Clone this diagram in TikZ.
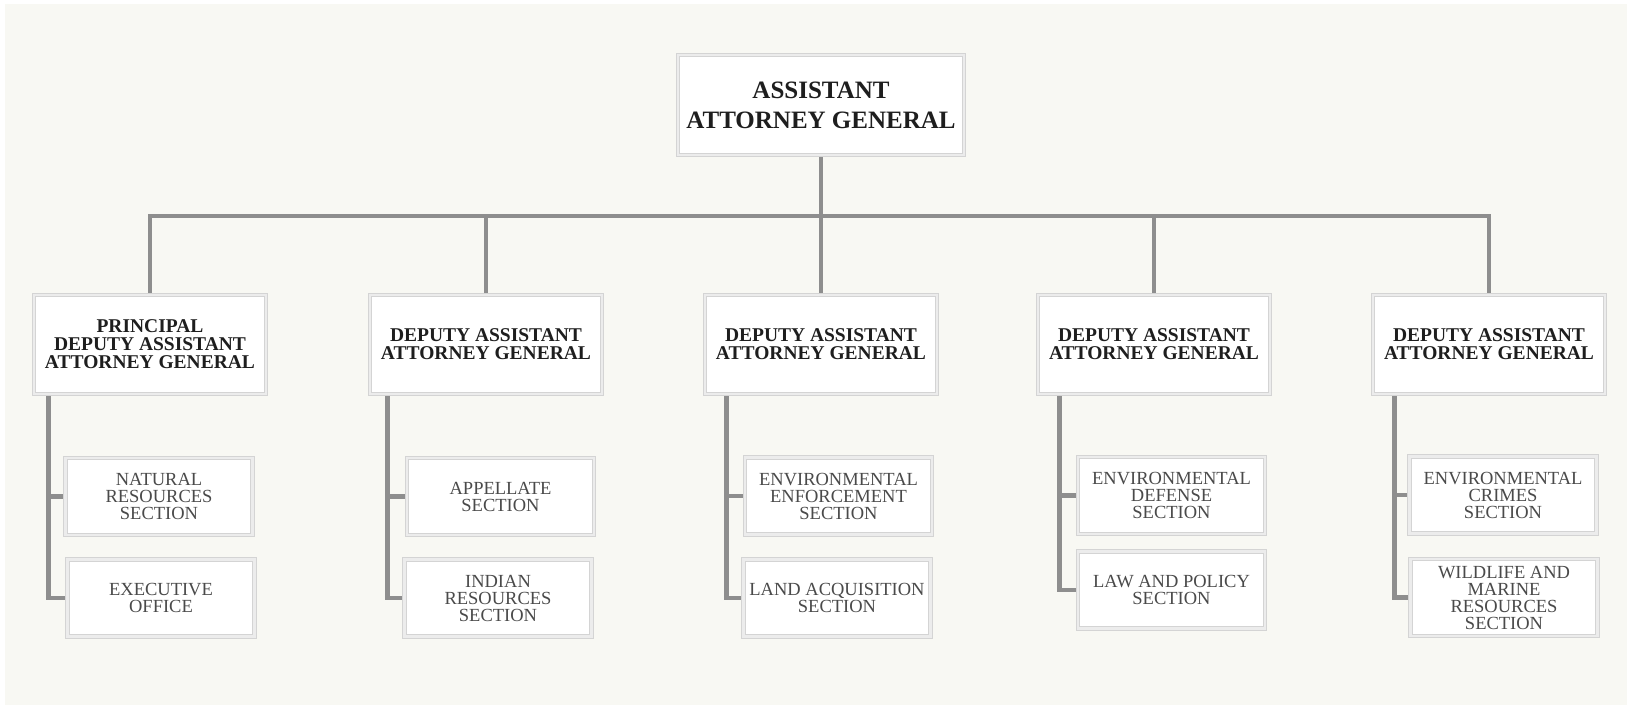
\documentclass[tikz,border=0pt]{standalone}
\usepackage{fontspec}
\setmainfont{Liberation Serif}
\usetikzlibrary{positioning,backgrounds}

\definecolor{paper}{HTML}{F8F8F3}
\definecolor{linkgray}{HTML}{8E8E8E}
\definecolor{frameedge}{HTML}{D4D4D4}
\definecolor{frameband}{HTML}{ECECEC}
\definecolor{inkdark}{HTML}{1E1E1E}
\definecolor{inksoft}{HTML}{4A4A4A}

\tikzset{
  framed/.style={draw=frameedge, line width=0.8pt, double=frameband,
    double distance=2.6pt, fill=white, align=center, inner sep=0pt},
  headbox/.style={framed, minimum width=286pt, minimum height=100pt,
    font=\fontsize{25}{30}\selectfont\bfseries, text=inkdark},
  deputybox/.style={framed, minimum width=232pt, minimum height=99pt,
    font=\fontsize{19.5}{18}\selectfont\bfseries, text=inkdark},
  sectionbox/.style={framed, minimum width=187pt, minimum height=77pt,
    font=\fontsize{18.5}{17}\selectfont, text=inksoft},
  link/.style={draw=linkgray, line width=4.5pt}
}

\begin{document}
\begin{tikzpicture}[x=1pt, y=-1pt]
    \useasboundingbox (0,0) rectangle (1627,705);

    % top of the chart
    \node[headbox] (aag) at (821,105) {ASSISTANT\\ATTORNEY GENERAL};
    \coordinate (hub) at (821,216);

    % deputies
    \node[deputybox] (d1) at (150,344.5) {PRINCIPAL\\DEPUTY ASSISTANT\\ATTORNEY GENERAL};
    \node[deputybox] (d2) at (486,344.5) {DEPUTY ASSISTANT\\ATTORNEY GENERAL};
    \node[deputybox] (d3) at (821,344.5) {DEPUTY ASSISTANT\\ATTORNEY GENERAL};
    \node[deputybox] (d4) at (1154,344.5) {DEPUTY ASSISTANT\\ATTORNEY GENERAL};
    \node[deputybox] (d5) at (1489,344.5) {DEPUTY ASSISTANT\\ATTORNEY GENERAL};

    % sections
    \node[sectionbox] (s1a) at (159,496.5) {NATURAL\\RESOURCES\\SECTION};
    \node[sectionbox] (s1b) at (161,598) {EXECUTIVE\\OFFICE};
    \node[sectionbox] (s2a) at (500.5,496.5) {APPELLATE\\SECTION};
    \node[sectionbox] (s2b) at (498,598) {INDIAN\\RESOURCES\\SECTION};
    \node[sectionbox] (s3a) at (838.5,496) {ENVIRONMENTAL\\ENFORCEMENT\\SECTION};
    \node[sectionbox] (s3b) at (837,598) {LAND ACQUISITION\\SECTION};
    \node[sectionbox] (s4a) at (1171.5,495.5) {ENVIRONMENTAL\\DEFENSE\\SECTION};
    \node[sectionbox] (s4b) at (1171.5,590) {LAW AND POLICY\\SECTION};
    \node[sectionbox] (s5a) at (1503,495) {ENVIRONMENTAL\\CRIMES\\SECTION};
    \node[sectionbox] (s5b) at (1504,597.5) {WILDLIFE AND\\MARINE\\RESOURCES\\SECTION};

    \begin{pgfonlayer}{background}
        \fill[paper] (5,4) rectangle (1627,705);
        % connectors
        \draw[link] (aag.south) -- (d3.north);
        \draw[link] (d1.north) |- (hub) -| (d5.north);
        \draw[link] (d2.north) -- (d2.north |- hub);
        \draw[link] (d4.north) -- (d4.north |- hub);
        \draw[link] ([xshift=15pt]d1.south west) |- (s1a.west);
        \draw[link] ([xshift=15pt]d1.south west) |- (s1b.west);
        \draw[link] ([xshift=18pt]d2.south west) |- (s2a.west);
        \draw[link] ([xshift=18pt]d2.south west) |- (s2b.west);
        \draw[link] ([xshift=22pt]d3.south west) |- (s3a.west);
        \draw[link] ([xshift=22pt]d3.south west) |- (s3b.west);
        \draw[link] ([xshift=22pt]d4.south west) |- (s4a.west);
        \draw[link] ([xshift=22pt]d4.south west) |- (s4b.west);
        \draw[link] ([xshift=22pt]d5.south west) |- (s5a.west);
        \draw[link] ([xshift=22pt]d5.south west) |- (s5b.west);
    \end{pgfonlayer}
\end{tikzpicture}
\end{document}
